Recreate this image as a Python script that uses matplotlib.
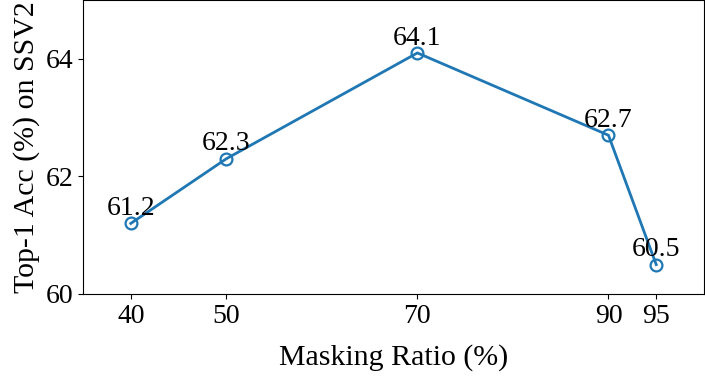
import matplotlib
matplotlib.use("Agg")
import matplotlib.pyplot as plt

ratios = [40, 50, 70, 90, 95]
accs = [61.2, 62.3, 64.1, 62.7, 60.5]
labels = ["61.2", "62.3", "64.1", "62.7", "60.5"]
yticks = [60, 62, 64]

plt.rcParams['font.family'] = ['Liberation Serif', 'DejaVu Serif']
fig = plt.figure(figsize=(7.05, 3.81), dpi=100)
ax = fig.add_axes([83/705, 1 - 294/381, (704 - 83)/705, 294/381])
ax.plot(ratios, accs, color='#1f77b4', lw=2, marker='o', ms=8.5,
        mfc='none', mec='#1f77b4', mew=1.6)
for x, y, t in zip(ratios, accs, labels):
    ax.annotate(t, (x, y), xytext=(0, 6), textcoords='offset points',
                ha='center', va='baseline', fontsize=20)
ax.set_xlim(35, 100)
ax.set_ylim(60, 65)
ax.set_xticks(ratios)
ax.set_yticks(yticks)
ax.tick_params(labelsize=20)
ax.set_xlabel("Masking Ratio (%)", fontsize=21.5, labelpad=11)
ax.set_ylabel("Top-1 Acc (%) on SSV2", fontsize=21.5, labelpad=4)
fig.savefig("out.png", dpi=100)
